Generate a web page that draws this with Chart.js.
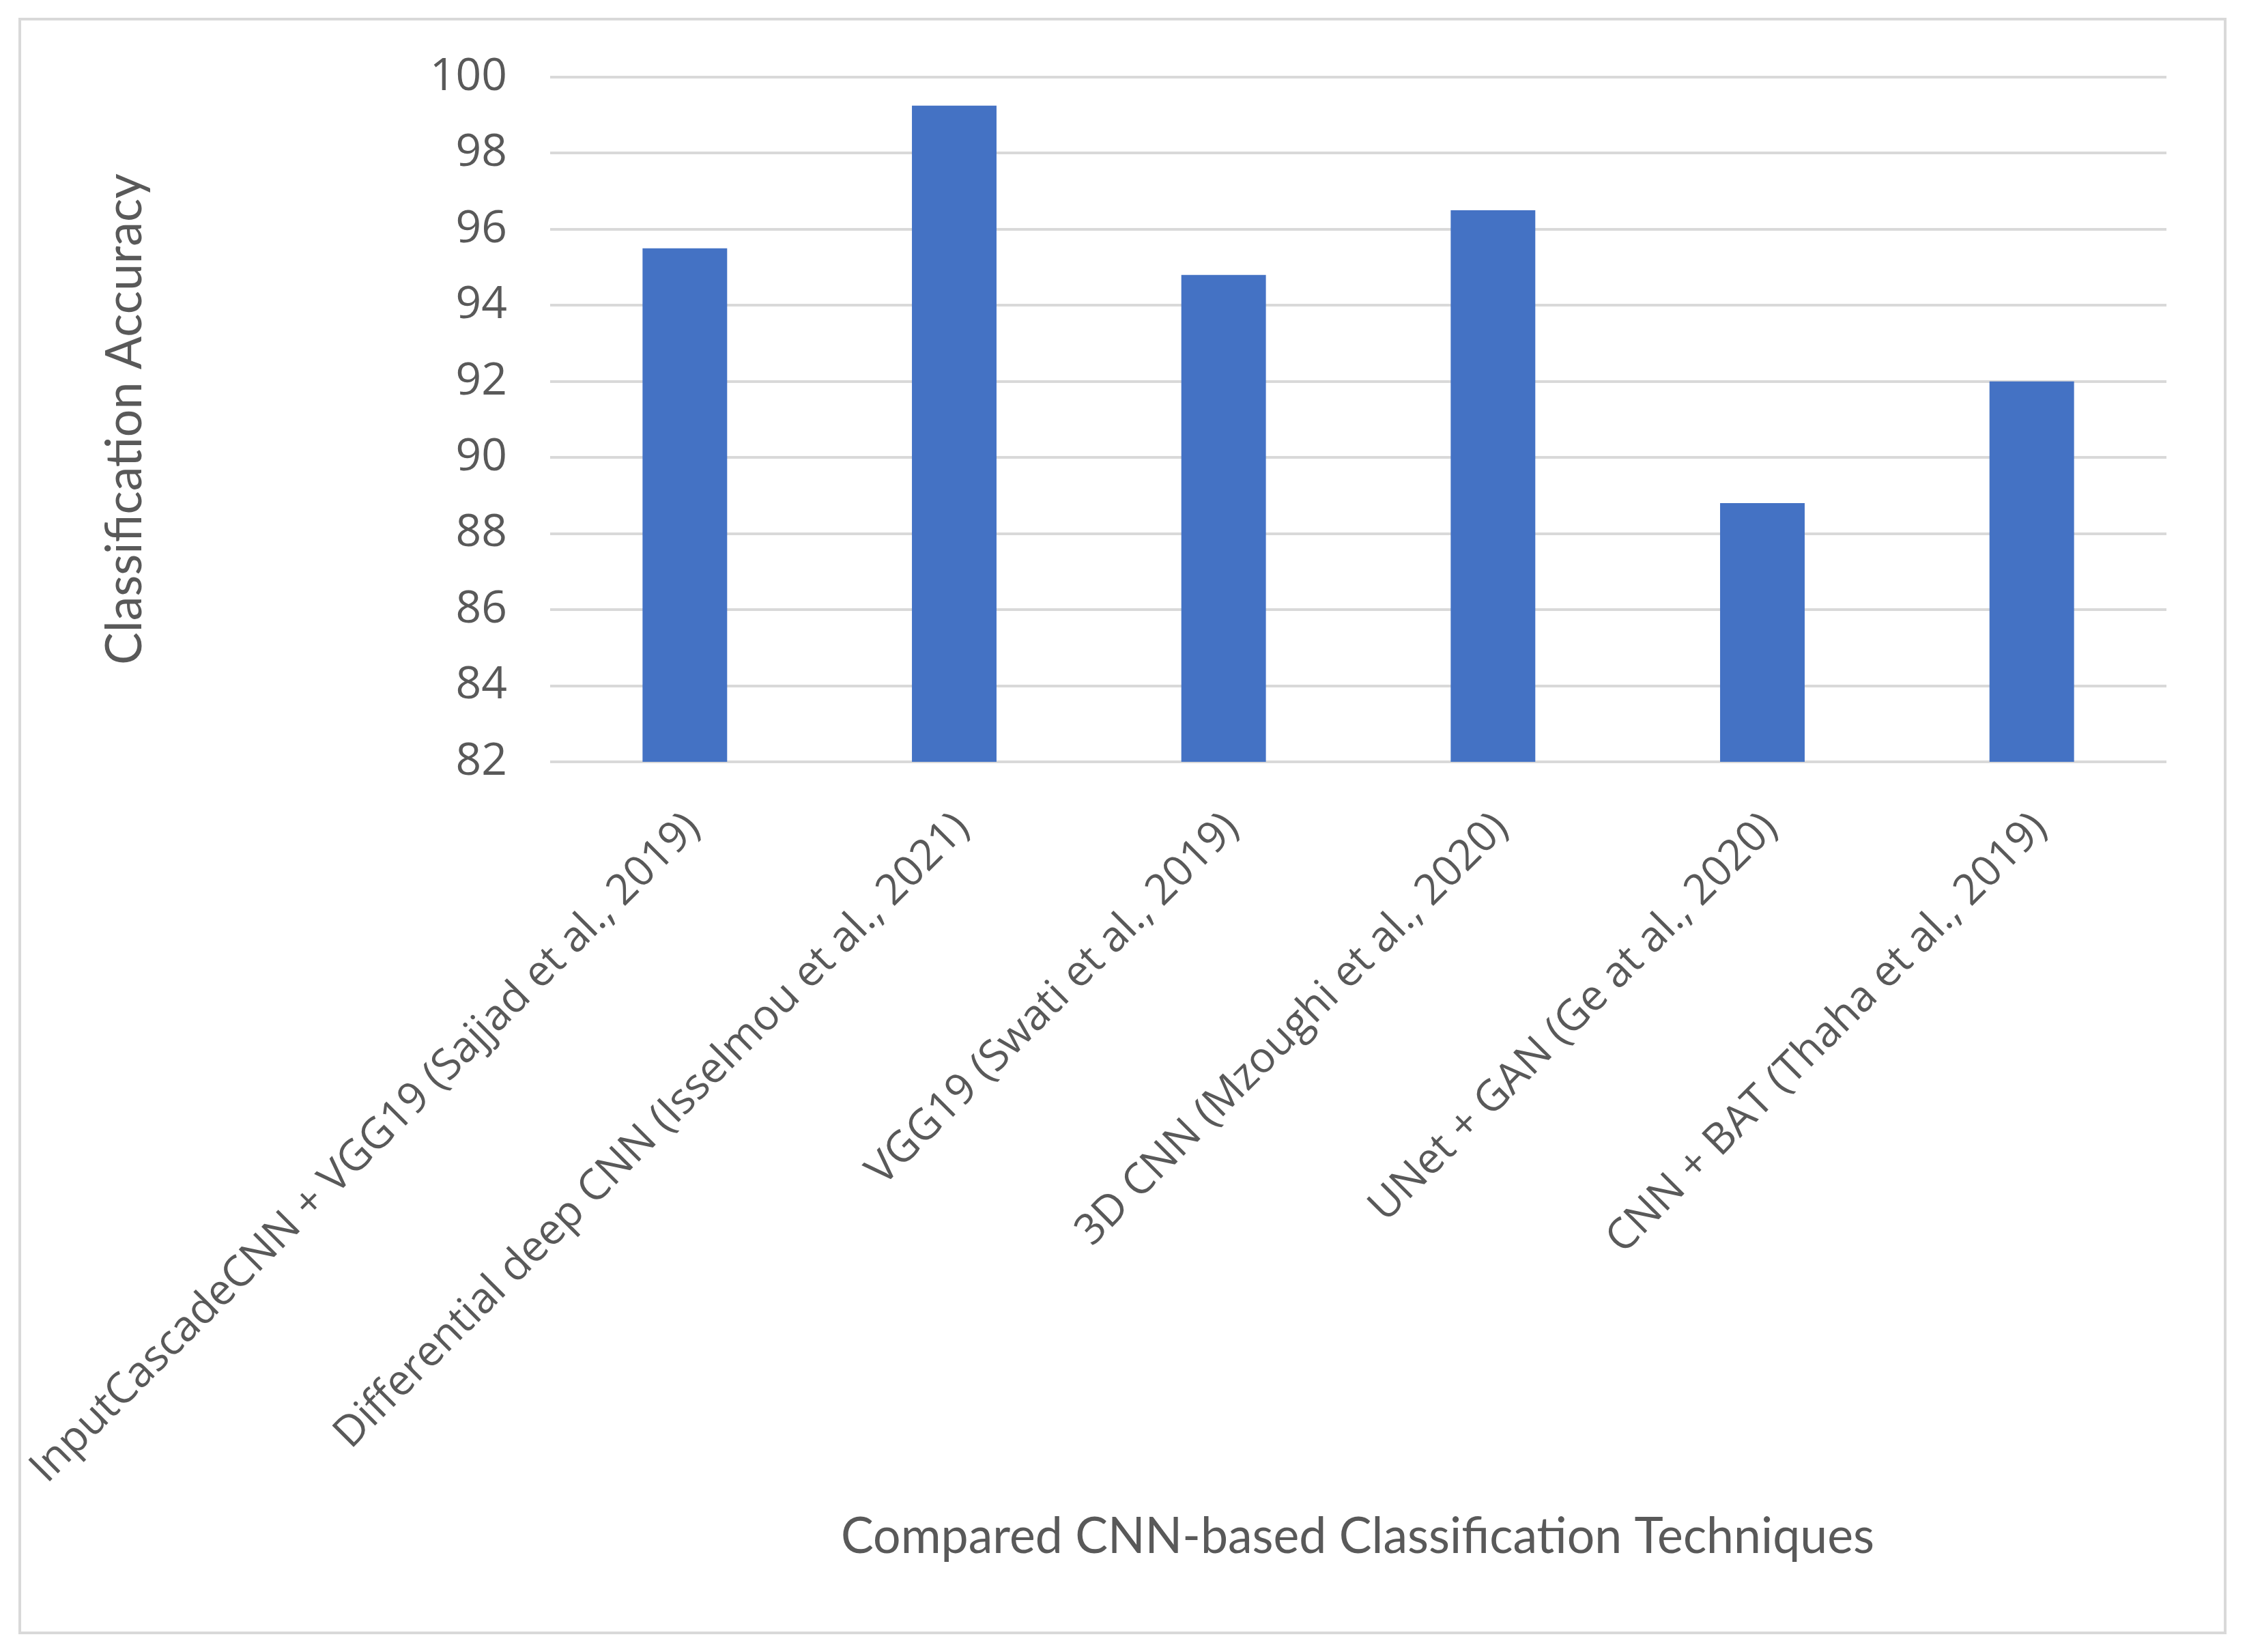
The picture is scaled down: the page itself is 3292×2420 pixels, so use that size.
<!DOCTYPE html>
<html lang="en">
    <head>
        <meta charset="UTF-8" />
        <title>Classification Accuracy</title>
        <script src="https://cdn.jsdelivr.net/npm/chart.js@4.4.0/dist/chart.umd.min.js"></script>
        <style>
            html, body { margin: 0; padding: 0; background: #ffffff; }
            #frame {
                position: absolute;
                left: 27px; top: 26px;
                width: 3227px; height: 2360px;
                border: 4px solid #d9d9d9;
            }
            #wrap { position: absolute; left: 0; top: 0; width: 3292px; height: 2420px; }
        </style>
    </head>
    <body>
        <div id="frame"></div>
        <div id="wrap"><canvas id="chart"></canvas></div>
        <script>
            const techniques = [
                "InputCascadeCNN + VGG19 (Sajjad et al., 2019)",
                "Differential deep CNN (Isselmou et al., 2021)",
                "VGG19 (Swati et al., 2019)",
                "3D CNN (Mzoughi et al., 2020)",
                "UNet + GAN (Ge at al., 2020)",
                "CNN + BAT (Thaha et al., 2019)",
            ];
            const accuracy = [95.5, 99.25, 94.8, 96.5, 88.8, 92.0];
            const yMin = 82;
            const yMax = 100;
            const yStep = 2;

            const xTitle = "Compared CNN-based Classification Techniques";
            const yTitle = "Classification Accuracy";

            const textColor = "#595959";
            const gridColor = "#d9d9d9";

            // axis titles drawn narrow, the original uses Calibri
            const axisTitles = {
                id: "axisTitles",
                afterDraw(chart) {
                    const ctx = chart.ctx;
                    ctx.save();
                    ctx.fillStyle = textColor;
                    ctx.font = "74px Lato";
                    ctx.textAlign = "center";
                    ctx.textBaseline = "middle";

                    let w = ctx.measureText(yTitle).width;
                    ctx.save();
                    ctx.translate(183, 614);
                    ctx.rotate(-Math.PI / 2);
                    ctx.scale(720 / w, 1);
                    ctx.fillText(yTitle, 0, 0);
                    ctx.restore();

                    w = ctx.measureText(xTitle).width;
                    ctx.save();
                    ctx.translate(1989, 2251);
                    ctx.scale(1514 / w, 1);
                    ctx.fillText(xTitle, 0, 0);
                    ctx.restore();
                    ctx.restore();
                },
            };

            function draw() {
                Chart.defaults.font.family = "'Open Sans'";
                Chart.defaults.color = textColor;

                new Chart("chart", {
                    type: "bar",
                    data: {
                        labels: techniques,
                        datasets: [
                            {
                                data: accuracy,
                                backgroundColor: "#4472C4",
                                barPercentage: 0.314,
                                categoryPercentage: 1.0,
                            },
                        ],
                    },
                    options: {
                        responsive: true,
                        maintainAspectRatio: false,
                        animation: false,
                        layout: { padding: { top: 113, right: 118, left: 0, bottom: 0 } },
                        plugins: {
                            legend: { display: false },
                            tooltip: { enabled: false },
                        },
                        scales: {
                            x: {
                                grid: { display: false },
                                border: { display: false },
                                ticks: {
                                    minRotation: 45,
                                    maxRotation: 45,
                                    autoSkip: false,
                                    padding: 52,
                                    labelOffset: 12,
                                    font: { size: 62.5 },
                                    color: textColor,
                                },
                                afterFit(scale) {
                                    scale.height = 2420 - 1116;
                                    // don't let the long first label push the axis right
                                    scale.paddingLeft = 0;
                                    scale.paddingRight = 0;
                                },
                            },
                            y: {
                                min: yMin,
                                max: yMax,
                                border: { display: false },
                                grid: { color: gridColor, lineWidth: 4, drawTicks: false },
                                ticks: {
                                    stepSize: yStep,
                                    padding: 63,
                                    font: { size: 66 },
                                    color: textColor,
                                },
                                afterFit(scale) {
                                    scale.width = 806;
                                },
                            },
                        },
                    },
                    plugins: [axisTitles],
                });
            }

            Promise.all([
                document.fonts.load('66px "Open Sans"'),
                document.fonts.load("74px Lato"),
            ]).then(draw, draw);
        </script>
    </body>
</html>
